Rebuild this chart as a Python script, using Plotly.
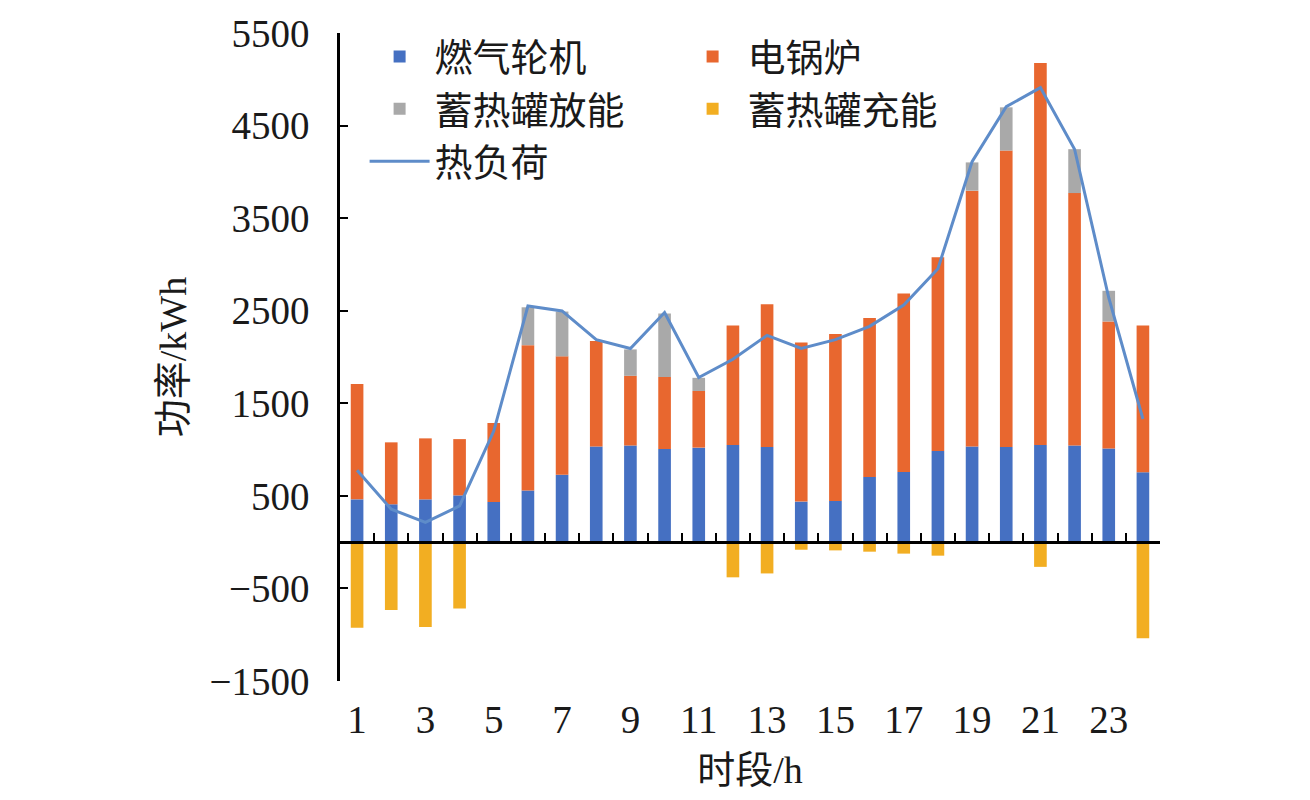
import plotly.graph_objects as go

hours = list(range(1, 25))
gas_turbine = [462, 409, 462, 505, 434, 558, 729, 1032, 1043, 1007, 1021, 1050,
               1028, 438, 445, 705, 758, 985, 1032, 1028, 1050, 1043, 1011, 754]
electric_boiler = [1246, 669, 659, 608, 854, 1570, 1278, 1142, 754, 776, 612, 1291,
                   1541, 1718, 1804, 1715, 1929, 2093, 2765, 3202, 4127, 2728, 1373, 1587]
storage_discharge = [0, 0, 0, 0, 0, 409, 484, 0, 285, 686, 142, 0,
                     0, 0, 0, 0, 0, 0, 305, 467, 0, 474, 331, 0]
storage_charge = [-924, -732, -917, -718, 0, 0, 0, 0, 0, 0, 0, -380,
                  -338, -82, -89, -103, -124, -146, 0, 0, -267, 0, 0, -1038]
heat_load = [776, 356, 213, 391, 1200, 2551, 2498, 2188, 2092, 2480, 1779, 1975,
             2234, 2092, 2188, 2331, 2562, 2954, 4110, 4704, 4910, 4245, 2640, 1330]

y_ticks = [-1500, -500, 500, 1500, 2500, 3500, 4500, 5500]
y_tick_text = [("\u2212" + str(-v)) if v < 0 else str(v) for v in y_ticks]
x_ticks = list(range(1, 24, 2))
x_tick_text = [str(v) for v in x_ticks]

FONT = "Liberation Serif, Noto Sans CJK SC"

fig = go.Figure()
fig.add_trace(go.Bar(x=hours, y=gas_turbine, name="燃气轮机", marker_color="#4570C2", marker_line_width=0))
fig.add_trace(go.Bar(x=hours, y=electric_boiler, name="电锅炉", marker_color="#E8672F", marker_line_width=0))
fig.add_trace(go.Bar(x=hours, y=storage_discharge, name="蓄热罐放能", marker_color="#A9A9A9", marker_line_width=0))
fig.add_trace(go.Bar(x=hours, y=storage_charge, name="蓄热罐充能", marker_color="#F2AE22", marker_line_width=0))
fig.add_trace(go.Scatter(x=hours, y=heat_load, name="热负荷", mode="lines",
                         line=dict(color="#5E8CC9", width=3)))
# helper trace so the zero-crossing category axis is drawn
fig.add_trace(go.Scatter(x=[None], y=[None], xaxis="x2", showlegend=False, hoverinfo="skip"))

boundaries = [h - 0.5 for h in hours] + [24.5]

fig.update_layout(
    width=1310, height=800,
    margin=dict(l=340, r=150, t=24, b=119),
    paper_bgcolor="white", plot_bgcolor="white",
    barmode="relative", bargap=0.63,
    font=dict(family=FONT, size=39, color="#1a1a1a"),
    showlegend=True,
    legend=dict(orientation="h", x=0.03, y=1.012, xanchor="left", yanchor="top",
                entrywidth=238, entrywidthmode="pixels", itemwidth=60,
                traceorder="normal", bgcolor="rgba(0,0,0,0)",
                font=dict(family=FONT, size=38, color="#1a1a1a"),
                tracegroupgap=0),
    xaxis=dict(range=[0.5, 24.5], tickmode="array", tickvals=x_ticks, ticktext=x_tick_text,
               showline=False, showgrid=False, zeroline=False, ticks="",
               ticklabelstandoff=12,
               title=dict(text="时段/h", standoff=16, font=dict(family=FONT, size=38)),
               tickfont=dict(family=FONT, size=39)),
    xaxis2=dict(range=[0.5, 24.5], overlaying="x", anchor="free", position=1500 / 7000,
                showline=True, linecolor="black", linewidth=2.5,
                tickmode="array", tickvals=boundaries, ticks="inside", ticklen=8,
                tickwidth=2, tickcolor="black", showticklabels=False,
                showgrid=False, zeroline=False),
    yaxis=dict(range=[-1500, 5500], tickmode="array", tickvals=y_ticks, ticktext=y_tick_text,
               showline=True, linecolor="black", linewidth=2.5,
               ticks="inside", ticklen=8, tickwidth=2, tickcolor="black",
               showgrid=False, zeroline=False, ticklabelstandoff=20,
               tickfont=dict(family=FONT, size=39),
               title=dict(text="功率/kWh", standoff=12, font=dict(family=FONT, size=38))),
)

fig.write_html("out.html")
